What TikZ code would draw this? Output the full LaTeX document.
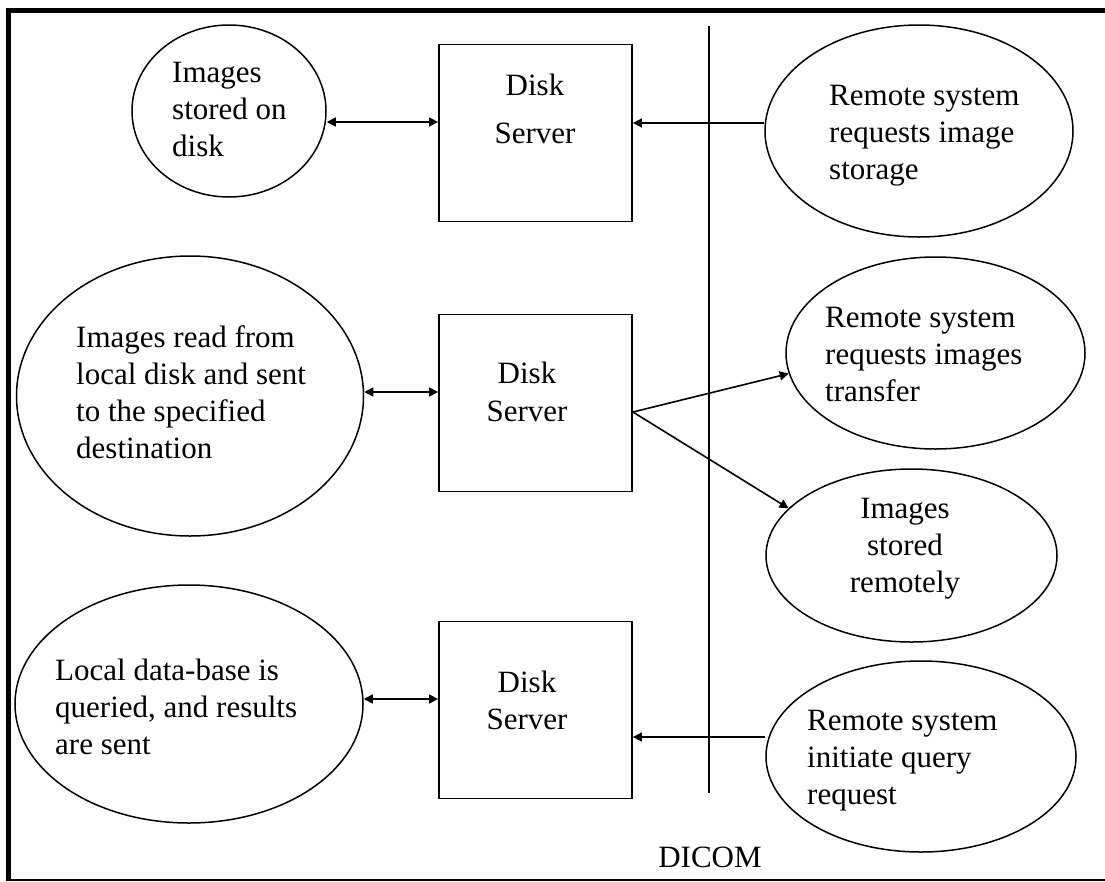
\documentclass[tikz,border=0pt]{standalone}
\usepackage{fontspec}
\setmainfont{Liberation Serif}
\usetikzlibrary{shapes.geometric,arrows.meta,calc}
\begin{document}
\begin{tikzpicture}[x=1pt,y=-1pt,
  ell/.style={ellipse,draw=black,line width=1.5pt,inner sep=0pt},
  srv/.style={rectangle,draw=black,line width=1.8pt,inner sep=0pt,minimum width=193pt,minimum height=177pt},
  lbl/.style={inner sep=0pt,anchor=base west,font=\fontsize{31}{37}\selectfont},
  clbl/.style={inner sep=0pt,anchor=base,font=\fontsize{31}{37}\selectfont},
  conn/.style={line width=1.6pt,-{Triangle[length=9pt,width=9pt]}},
  dconn/.style={line width=1.6pt,{Triangle[length=9pt,width=9pt]}-{Triangle[length=9pt,width=9pt]}},
  sep/.style={line width=1.8pt}]
\fill[white] (0,0) rectangle (1105,881);
\useasboundingbox (0,0) rectangle (1105,881);
% frame (top, left, bottom)
\fill[black] (6,8) rectangle (1105,12.5);
\fill[black] (6,8) rectangle (10.5,881);
\fill[black] (6,878.5) rectangle (1105,881);

% servers
\node[srv] (b1) at (535.5,133) {};
\node[srv] (b2) at (535.5,403) {};
\node[srv] (b3) at (535.5,710) {};
\node[clbl] (d1) at (535,95) {\begin{tabular}[t]{@{}c@{}}Disk\\[11pt]Server\end{tabular}};
\node[clbl] (d2) at (527,383) {\begin{tabular}[t]{@{}c@{}}Disk\\[1pt]Server\end{tabular}};
\node[clbl] (d3) at (527,692) {\begin{tabular}[t]{@{}c@{}}Disk\\Server\end{tabular}};

% local ellipses
\node[ell,minimum width=194pt,minimum height=172pt] (e1L) at (229,111) {};
\node[ell,minimum width=347pt,minimum height=280pt] (e2L) at (190,396) {};
\node[ell,minimum width=348pt,minimum height=238pt] (e3L) at (189,704) {};
\node[lbl] (t1L) at (172,82) {\begin{tabular}[t]{@{}l@{}}Images\\stored on\\disk\end{tabular}};
\node[lbl] (t2L) at (76,347) {\begin{tabular}[t]{@{}l@{}}Images read from\\local disk and sent\\to the specified\\destination\end{tabular}};
\node[lbl] (t3L) at (55,680) {\begin{tabular}[t]{@{}l@{}}Local data-base is\\queried, and results\\are sent\end{tabular}};

% remote ellipses
\node[ell,minimum width=308pt,minimum height=212pt] (e1R) at (919,131) {};
\node[ell,minimum width=299pt,minimum height=192pt] (e2R) at (935.5,353) {};
\node[ell,minimum width=291pt,minimum height=173pt] (e3R) at (911.5,555.5) {};
\node[ell,minimum width=310pt,minimum height=191pt] (e4R) at (921,756.5) {};
\node[lbl] (t1R) at (829,105) {\begin{tabular}[t]{@{}l@{}}Remote system\\requests image\\storage\end{tabular}};
\node[lbl] (t2R) at (825,327) {\begin{tabular}[t]{@{}l@{}}Remote system\\requests images\\transfer\end{tabular}};
\node[clbl] (t3R) at (905,518) {\begin{tabular}[t]{@{}c@{}}Images\\stored\\remotely\end{tabular}};
\node[lbl] (t4R) at (807,730) {\begin{tabular}[t]{@{}l@{}}Remote system\\initiate query\\request\end{tabular}};

% DICOM separator
\coordinate (vtop) at (709,26);
\coordinate (vbot) at (709,793);
\draw[sep] (vtop) -- (vbot);
\node[clbl] (dicom) at (710,867) {DICOM};

% connectors
\coordinate (a1) at ($(b1.west)+(0,-11)$);
\coordinate (a2) at ($(b2.west)+(0,-11)$);
\coordinate (a3) at ($(b3.west)+(0,-11)$);
\draw[dconn] (a1 -| e1L.east) -- (a1);
\draw[dconn] (a2 -| e2L.east) -- (a2);
\draw[dconn] (a3 -| e3L.east) -- (a3);

\coordinate (r1) at ($(b1.east)+(0,-10)$);
\coordinate (r3) at ($(b3.east)+(0,27)$);
\draw[conn] (r1 -| e1R.west) -- (r1);
\draw[conn] (r3 -| e4R.west) -- (r3);

\coordinate (s2) at ($(b2.east)+(0,9)$);
\draw[conn] (s2) -- (e2R.188);
\draw[conn] (s2) -- (e3R.159);
\end{tikzpicture}
\end{document}
